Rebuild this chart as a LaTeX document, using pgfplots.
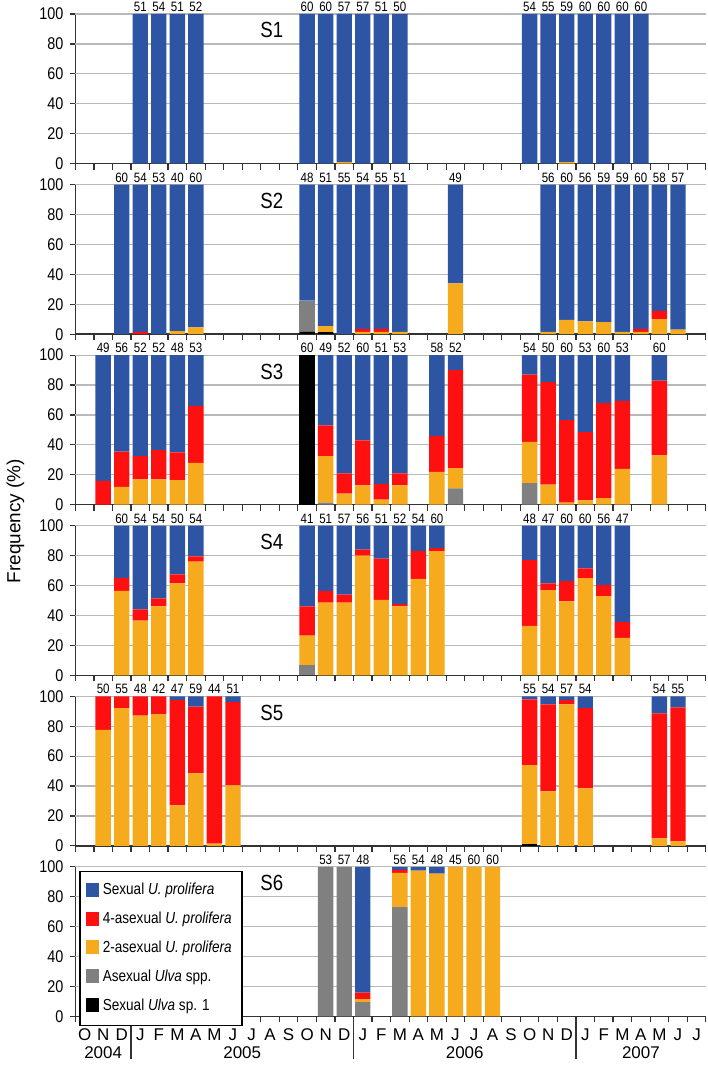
\documentclass[border=0pt]{standalone}
\usepackage{fontspec}
\setmainfont{Liberation Sans}
\newfontfamily\narrowfont[FakeStretch=0.85]{Liberation Sans}
\usepackage{pgfplots}
\pgfplotsset{compat=1.18}
\usepgfplotslibrary{groupplots}
\usepackage{pgfplotstable}

\definecolor{cblue}{RGB}{46,84,164}
\definecolor{cred}{RGB}{255,16,16}
\definecolor{corange}{RGB}{246,170,30}
\definecolor{cgray}{RGB}{128,128,128}
\definecolor{cblack}{RGB}{0,0,0}

\newcommand{\tck}{\narrowfont\fontsize{8.5}{9}\selectfont}
\newcommand{\cnt}{\narrowfont\fontsize{6.8}{7}\selectfont}
\newcommand{\mon}{\fontsize{8.5}{9}\selectfont}
\newcommand{\leg}{\narrowfont\fontsize{8}{9}\selectfont}
\newcommand{\stag}{\narrowfont\fontsize{11}{12}\selectfont}

% columns: month index (0 = Oct 2004), Sexual Ulva sp.1, Asexual Ulva spp.,
% 2-asexual, 4-asexual, sexual U. prolifera, sample size
\pgfplotstableread{
x k g o r b n
3 0 0 0 0 100 51
4 0 0 0 0 100 54
5 0 0 0 0 100 51
6 0 0 0 0 100 52
12 0 0 0 0 100 60
13 0 0 0 0 100 60
14 0 0 1 0 99 57
15 0 0 0 0 100 57
16 0 0 0 0 100 51
17 0 0 0 0 100 50
24 0 0 0 0 100 54
25 0 0 0 0 100 55
26 0 0 1 0 99 59
27 0 0 0 0 100 60
28 0 0 0 0 100 60
29 0 0 0 0 100 60
30 0 0 0 0 100 60
}\tabSa

\pgfplotstableread{
x k g o r b n
2 0 0 0 0 100 60
3 0 0 0 1.5 98.5 54
4 0 0 0 0 100 53
5 0 0 2 0 98 40
6 0 0 4.5 0 95.5 60
12 1.5 21 0 0 77.5 48
13 1.3 0 4 0 94.7 51
14 0 0 0 0 100 55
15 0 0 1.5 2 96.5 54
16 0 0 1.5 2 96.5 55
17 0 0 1.5 0 98.5 51
20 0 0 34 0 66 49
25 0 0 1.5 0 98.5 56
26 0 0 9.5 0 90.5 60
27 0 0 8.5 0 91.5 56
28 0 0 8 0 92 59
29 0 0 1.5 0 98.5 59
30 0 0 1.5 2 96.5 60
31 0 0 10 5.5 84.5 58
32 0 0 3 0 97 57
}\tabSb

\pgfplotstableread{
x k g o r b n
1 0 0 0 16 84 49
2 0 0 12 23.5 64.5 56
3 0 0 17 15.5 67.5 52
4 0 0 17 19.5 63.5 52
5 0 0 16.5 18.5 65 48
6 0 0 28 38 34 53
12 100 0 0 0 0 60
13 0 1.5 31 20.5 47 49
14 0 0 7.5 13.5 79 52
15 0 0 13 30 57 60
16 0 0 3.5 10.5 86 51
17 0 0 13 8 79 53
19 0 0 22 24 54 58
20 0 11 13.5 65.5 10 52
24 0 14.5 27.5 45 13 54
25 0 0 13.5 68.5 18 50
26 0 0 1.5 55 43.5 60
27 0 0 3 45.5 51.5 53
28 0 0 4.5 63.5 32 60
29 0 0 24 45.5 30.5 53
31 0 0 33 50 17 60
}\tabSc

\pgfplotstableread{
x k g o r b n
2 0 0 56.5 8.5 35 60
3 0 0 36.5 7.5 56 54
4 0 0 46 5.5 48.5 54
5 0 0 61.5 6 32.5 50
6 0 0 76 3.5 20.5 54
12 0 7 19.5 19.5 54 41
13 0 0 48.5 8 43.5 51
14 0 0 48.5 5.5 46 57
15 0 0 80 4 16 56
16 0 0 50.5 27.5 22 51
17 0 0 46 1.5 52.5 52
18 0 0 64.5 18.5 17 54
19 0 0 83 2 15 60
24 0 0 33 44 23 48
25 0 0 57 4.5 38.5 47
26 0 0 49.5 13.5 37 60
27 0 0 65 6.5 28.5 60
28 0 0 53 7.5 39.5 56
29 0 0 25 10.5 64.5 47
}\tabSd

\pgfplotstableread{
x k g o r b n
1 0 0 77.5 22.5 0 50
2 0 0 92 8 0 55
3 0 0 87 13 0 48
4 0 0 88 12 0 42
5 0 0 27 70.5 2.5 47
6 0 0 48.5 44.5 7 59
7 0 0 1.5 98.5 0 44
8 0 0 40.5 55.5 4 51
24 1 0 53 44 2 55
25 0 0 36.5 58 5.5 54
26 0 0 94.5 3 2.5 57
27 0 0 38.5 53.5 8 54
31 0 0 5 83.5 11.5 54
32 0 0 3 89.5 7.5 55
}\tabSe

\pgfplotstableread{
x k g o r b n
13 0 100 0 0 0 53
14 0 100 0 0 0 57
15 0 9.5 2 4.5 84 48
17 0 73 23 2 2 56
18 0 0 97.5 0 2.5 54
19 0 0 95.5 0 4.5 48
20 0 0 100 0 0 45
21 0 0 100 0 0 60
22 0 0 100 0 0 60
}\tabSf

\newcommand{\panel}[1]{%
  \addplot[fill=cblack, draw=none] table[x=x, y=k] {#1};
  \addplot[fill=cgray, draw=none] table[x=x, y=g] {#1};
  \addplot[fill=corange, draw=none] table[x=x, y=o] {#1};
  \addplot[fill=cred, draw=none] table[x=x, y=r] {#1};
  \addplot[fill=cblue, draw=none] table[x=x, y=b] {#1};
  % sample sizes above each bar (stacked nodes sit mid-bar, so lift by half the axis)
  \addplot+[stack plots=false, only marks, mark=none, forget plot, nodes near coords,
    point meta=explicit symbolic,
    every node near coord/.append style={anchor=south, font=\cnt, inner sep=1pt,
      text=black, yshift=37.5pt}]
    table[x=x, y expr=100, meta=n] {#1};
}

\begin{document}
\begin{tikzpicture}
\begin{groupplot}[
  group style={group size=1 by 6, vertical sep=10.5pt, xticklabels at=edge bottom},
  width=316pt, height=75pt, scale only axis,
  ybar stacked, /pgf/bar width=0.83,
  xmin=-0.5, xmax=33.5, ymin=0, ymax=100, enlargelimits=false,
  clip=false,
  axis lines*=left,
  axis line style={line width=0.7pt, black!80},
  every tick/.style={black!80, line width=0.6pt},
  tick align=outside,
  major tick length=2.5pt, minor tick length=3pt,
  ytick={0,20,...,100},
  extra y ticks={20,40,60,80,100},
  extra y tick labels={},
  extra y tick style={grid=major},
  grid style={gray!55, line width=0.6pt},
  xtick={0,...,33},
  major x tick style={draw=none},
  minor xtick={-0.5,0.5,...,33.5},
  xticklabels={O,N,D,J,F,M,A,M,J,J,A,S,O,N,D,J,F,M,A,M,J,J,A,S,O,N,D,J,F,M,A,M,J,J},
  xticklabel style={font=\mon},
  yticklabel style={font=\tck},
  /pgf/number format/assume math mode=true,
]
\nextgroupplot
\panel{\tabSa}
\node[font=\stag] at (axis cs:10.1,89) {S1};

\nextgroupplot
\panel{\tabSb}
\node[font=\stag] at (axis cs:10.1,89) {S2};

\nextgroupplot
\panel{\tabSc}
\node[font=\stag] at (axis cs:10.1,89) {S3};

\nextgroupplot[ylabel={Frequency (\%)},
  ylabel style={at={(axis description cs:-0.095,1.03)}, anchor=center, font=\fontsize{9.5}{10}\selectfont}]
\panel{\tabSd}
\node[font=\stag] at (axis cs:10.1,89) {S4};

\nextgroupplot
\panel{\tabSe}
\node[font=\stag] at (axis cs:10.1,89) {S5};

\nextgroupplot[
  reverse legend,
  legend cell align=left,
  legend style={at={(axis cs:-0.3,97.5)}, anchor=north west, draw=black, line width=0.8pt,
    font=\leg, row sep=3.2pt, inner xsep=3pt, inner ysep=4pt},
  legend image code/.code={\fill[#1] (0pt,-3pt) rectangle (6.5pt,4pt);},
]
\panel{\tabSf}
\legend{Sexual \textit{Ulva} sp. 1, Asexual \textit{Ulva} spp., 2-asexual \textit{U. prolifera}, 4-asexual \textit{U. prolifera}, Sexual \textit{U. prolifera}}
\node[font=\stag] at (axis cs:10.1,89) {S6};
\draw[line width=0.7pt, black!80] (axis cs:2.5,0) -- ++(0pt,-21.5pt);
\draw[line width=0.7pt, black!80] (axis cs:14.5,0) -- ++(0pt,-21.5pt);
\draw[line width=0.7pt, black!80] (axis cs:26.5,0) -- ++(0pt,-21.5pt);
\node[font=\mon] at (axis cs:1,0) [yshift=-18pt] {2004};
\node[font=\mon] at (axis cs:8.5,0) [yshift=-18pt] {2005};
\node[font=\mon] at (axis cs:20.5,0) [yshift=-18pt] {2006};
\node[font=\mon] at (axis cs:30,0) [yshift=-18pt] {2007};
\end{groupplot}
\end{tikzpicture}
\end{document}
